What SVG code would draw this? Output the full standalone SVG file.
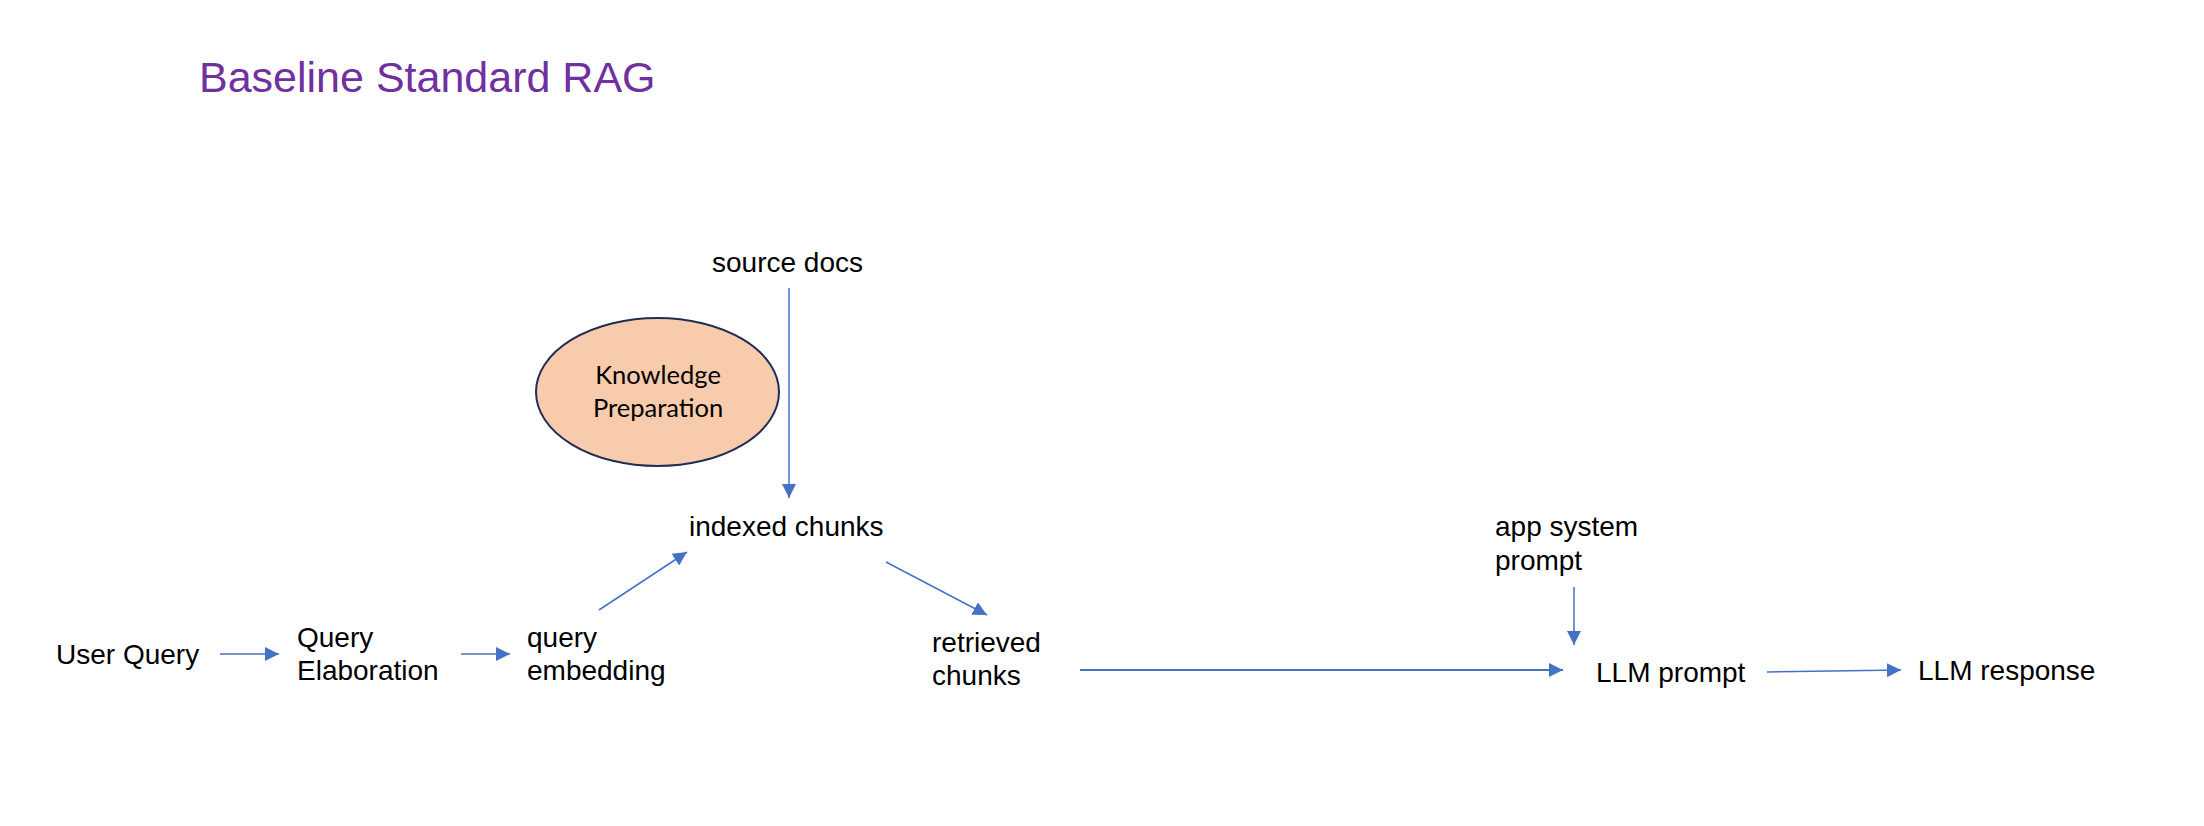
<svg xmlns="http://www.w3.org/2000/svg" width="2204" height="826" viewBox="0 0 2204 826">
<style>
.t{font-family:"Liberation Sans",Arial,sans-serif;font-size:28px;fill:#000}
.title{font-family:"Liberation Sans",Arial,sans-serif;font-size:43px;fill:#7030A0}
.kp{font-family:Lato,"Liberation Sans",sans-serif;font-size:25.5px;fill:#000;text-anchor:middle}
.c{stroke:#4472C4;stroke-width:1.5;fill:none;marker-end:url(#ah)}
</style>
<defs>
<marker id="ah" markerUnits="userSpaceOnUse" markerWidth="14" markerHeight="14" refX="14" refY="7" orient="auto">
<path d="M0,0 L14,7 L0,14 Z" fill="#4472C4"/>
</marker>
</defs>
<rect width="2204" height="826" fill="#fff"/>
<text class="title" x="199" y="92">Baseline Standard RAG</text>
<g id="connectors">
<line class="c" x1="220" y1="654" x2="279" y2="654"/>
<line class="c" x1="461" y1="654" x2="510" y2="654"/>
<line class="c" x1="599" y1="610" x2="687" y2="552"/>
<line class="c" x1="789" y1="288" x2="789" y2="498"/>
<line class="c" x1="886" y1="562" x2="987" y2="615"/>
<line class="c" x1="1080" y1="670" x2="1563" y2="670" style="stroke-width:2"/>
<line class="c" x1="1574" y1="587" x2="1574" y2="645"/>
<line class="c" x1="1767" y1="672" x2="1901" y2="670"/>
</g>
<g id="knowledge-preparation">
<ellipse cx="657.5" cy="392" rx="121.5" ry="74" fill="#F8CBAD" stroke="#1F2E52" stroke-width="2"/>
<text class="kp" x="658" y="384">Knowledge</text>
<text class="kp" x="658" y="417">Preparation</text>
</g>
<g id="source-docs"><text class="t" x="712" y="272">source docs</text></g>
<g id="indexed-chunks"><text class="t" x="689" y="536">indexed chunks</text></g>
<g id="user-query"><text class="t" x="56" y="664">User Query</text></g>
<g id="query-elaboration"><text class="t" x="297" y="647">Query</text><text class="t" x="297" y="680">Elaboration</text></g>
<g id="query-embedding"><text class="t" x="527" y="647">query</text><text class="t" x="527" y="680">embedding</text></g>
<g id="retrieved-chunks"><text class="t" x="932" y="652">retrieved</text><text class="t" x="932" y="685">chunks</text></g>
<g id="app-system-prompt"><text class="t" x="1495" y="536">app system</text><text class="t" x="1495" y="570">prompt</text></g>
<g id="llm-prompt"><text class="t" x="1596" y="682">LLM prompt</text></g>
<g id="llm-response"><text class="t" x="1918" y="680">LLM response</text></g>
</svg>
